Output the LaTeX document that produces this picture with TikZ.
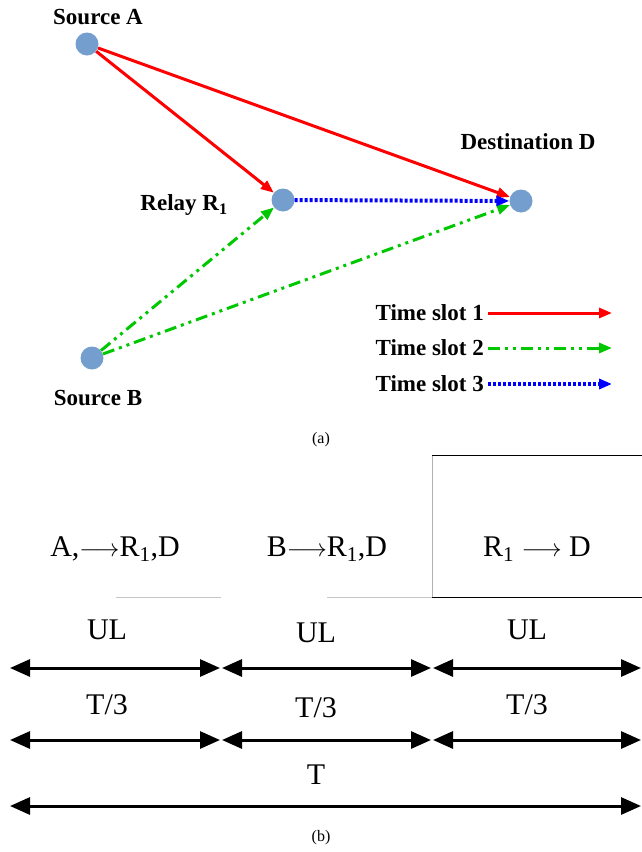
\documentclass[tikz,border=0pt]{standalone}
\usepackage{fontspec}
\setmainfont{Liberation Serif}
\usetikzlibrary{arrows.meta}

\definecolor{nodeblue}{RGB}{115,158,206}
\definecolor{slotred}{RGB}{255,0,0}
\definecolor{slotgreen}{RGB}{0,200,0}
\definecolor{slotblue}{RGB}{0,0,255}

\tikzset{
  station/.style={circle,fill=nodeblue,inner sep=0pt,minimum size=23pt},
  tag/.style={font=\fontsize{23}{27}\selectfont\bfseries,inner sep=0pt},
  plain/.style={font=\fontsize{30}{34}\selectfont,inner sep=0pt},
  caption/.style={font=\fontsize{16}{19}\selectfont,inner sep=0pt},
  slotone/.style={draw=slotred,line width=3pt,arrows={-Triangle[length=13pt,width=10pt]}},
  slottwo/.style={draw=slotgreen,line width=3pt,dash pattern=on 12pt off 5pt on 3pt off 5pt on 3pt off 5pt,
    arrows={-Triangle[length=13pt,width=10pt]}},
  slotthree/.style={draw=slotblue,line width=4pt,dash pattern=on 3pt off 2pt,
    arrows={-Triangle[length=13pt,width=10pt]}},
  span/.style={line width=3pt,arrows={Triangle[length=20pt,width=17pt]-Triangle[length=20pt,width=17pt]}}
}

\begin{document}
\begin{tikzpicture}[x=1pt,y=-1pt]
  \useasboundingbox (0,0) rectangle (642,852);

  % (a) network
  \node[station] (srcA) at (87,44) {};
  \node[station] (relay) at (283,200) {};
  \node[station] (dest) at (521,201) {};
  \node[station] (srcB) at (92,358) {};

  \node[tag] (labA) at (98,17) {Source A};
  \node[tag] (labR) at (184,205) {Relay R\textsubscript{1}};
  \node[tag] (labD) at (528,142) {Destination D};
  \node[tag] (labB) at (98,398) {Source B};

  \draw[slotone] (srcA) -- (relay);
  \draw[slotone] (srcA) -- (dest);
  \draw[slottwo] (srcB) -- (relay);
  \draw[slottwo] (srcB) -- (dest);
  \draw[slotthree] (relay) -- (dest);

  % legend
  \foreach \i/\y/\s in {1/313/slotone,2/348/slottwo,3/384/slotthree} {
    \node[tag,anchor=east] (key\i) at (484,\y) {Time slot \i};
    \coordinate (keyend\i) at (612,\y);
    \draw[\s] (key\i.east) ++(4,0) -- (keyend\i);
  }

  \node[caption] (capa) at (321,440) {(a)};

  % (b) frame
  \draw[gray!45,line width=1pt] (116,597) -- (221,597) (327,597) -- (432,597);
  \draw[gray!60,line width=1pt] (432,455) -- (432,597);
  \draw[line width=1pt] (432,455) -- (642,455) (432,597) -- (642,597);

  \node[plain] (phA) at (115,549) {A,$\longrightarrow$R\textsubscript{1},D};
  \node[plain] (phB) at (327,549) {B$\longrightarrow$R\textsubscript{1},D};
  \node[plain] (phR) at (537,549) {R\textsubscript{1} $\longrightarrow$ D};

  \foreach \x/\d in {107/0,316/3,527/0} {
    \node[plain] at (\x,630+\d) {UL};
    \node[plain] at (\x,705+\d) {T/3};
  }
  \foreach \y in {668,740} {
    \foreach \a/\b in {10/220,222/431,433/641}
      \draw[span] (\a,\y) -- (\b,\y);
  }
  \node[plain] (whole) at (316,775) {T};
  \draw[span] (10,806) -- (641,806);

  \node[caption] (capb) at (321,838) {(b)};
\end{tikzpicture}
\end{document}
